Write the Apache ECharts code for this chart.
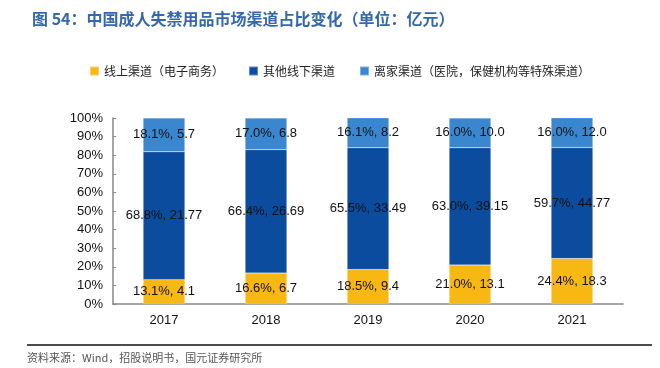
<!DOCTYPE html>
<html><head><meta charset="utf-8">
<script src="https://cdn.jsdelivr.net/npm/echarts@6/dist/echarts.min.js"></script>
<style>html,body{margin:0;padding:0;background:#fff}#c{width:660px;height:368px}</style>
</head><body><div id="c"></div>
<script>
var years = ['2017','2018','2019','2020','2021'];
var seriesNames = ['线上渠道（电子商务）','其他线下渠道','离家渠道（医院，保健机构等特殊渠道）'];
var onlinePct = [13.1, 16.6, 18.5, 21.0, 24.4];
var offlinePct = [68.8, 66.4, 65.5, 63.0, 59.7];
var awayPct = [18.1, 17.0, 16.1, 16.0, 16.0];
var onlineAmt = [4.1, 6.7, 9.4, 13.1, 18.3];
var offlineAmt = [21.77, 26.69, 33.49, 39.15, 44.77];
var awayAmt = [5.7, 6.8, 8.2, 10.0, 12.0];
var yTicks = [0,10,20,30,40,50,60,70,80,90,100];
var colors = ['#F8B814', '#0B4C9E', '#3A87CF'];

var chart = echarts.init(document.getElementById('c'));
function mk(i, pct, amt, dec){
  return {
    name: seriesNames[i], type: 'bar', stack: 'a', barWidth: '41%',
    data: pct,
    itemStyle: {color: colors[i], borderColor: 'rgba(255,255,255,0.35)', borderWidth: 0.5},
    label: {show: true, position: 'inside', color: '#111', fontSize: 13,
      fontFamily: 'Liberation Sans, Arial, sans-serif',
      formatter: function(p){ return pct[p.dataIndex].toFixed(1) + '%, ' + amt[p.dataIndex].toFixed(dec); }}
  };
}
chart.setOption({
  animation: false,
  color: colors,
  title: {text: '图 54：中国成人失禁用品市场渠道占比变化（单位：亿元）', left: 27, top: 6,
    textStyle: {color: '#3567AD', fontSize: 16, fontWeight: 'bold', fontFamily: 'Noto Sans CJK SC'}},
  legend: {left: 84, top: 60, itemWidth: 9, itemHeight: 9, itemGap: 24, icon: 'rect',
    textStyle: {fontSize: 12, color: '#222', fontFamily: 'Noto Sans CJK SC'}, data: seriesNames},
  grid: {left: 113, right: 37, top: 118, bottom: 64},
  xAxis: {type: 'category', data: years,
    axisLine: {lineStyle: {color: '#888', width: 1.5}},
    axisTick: {inside: true, length: 4, lineStyle: {color: '#888'}},
    axisLabel: {color: '#111', fontSize: 13, margin: 10, fontFamily: 'Liberation Sans, Arial, sans-serif'}},
  yAxis: {type: 'value', min: yTicks[0], max: yTicks[yTicks.length-1], interval: 10,
    axisLine: {show: true, lineStyle: {color: '#888', width: 1.5}},
    axisTick: {show: true, inside: true, length: 3, lineStyle: {color: '#888'}},
    splitLine: {show: false},
    axisLabel: {color: '#111', fontSize: 13, margin: 10, formatter: '{value}%', fontFamily: 'Liberation Sans, Arial, sans-serif'}},
  graphic: [
    {type: 'line', shape: {x1: 27, y1: 345, x2: 652, y2: 345}, style: {stroke: '#111', lineWidth: 1.5}},
    {type: 'text', left: 27, top: 352, style: {text: '资料来源：Wind，招股说明书，国元证券研究所', fill: '#555', fontSize: 11, fontFamily: 'Noto Sans CJK SC'}}
  ],
  series: [mk(0, onlinePct, onlineAmt, 1), mk(1, offlinePct, offlineAmt, 2), mk(2, awayPct, awayAmt, 1)]
});
</script></body></html>
